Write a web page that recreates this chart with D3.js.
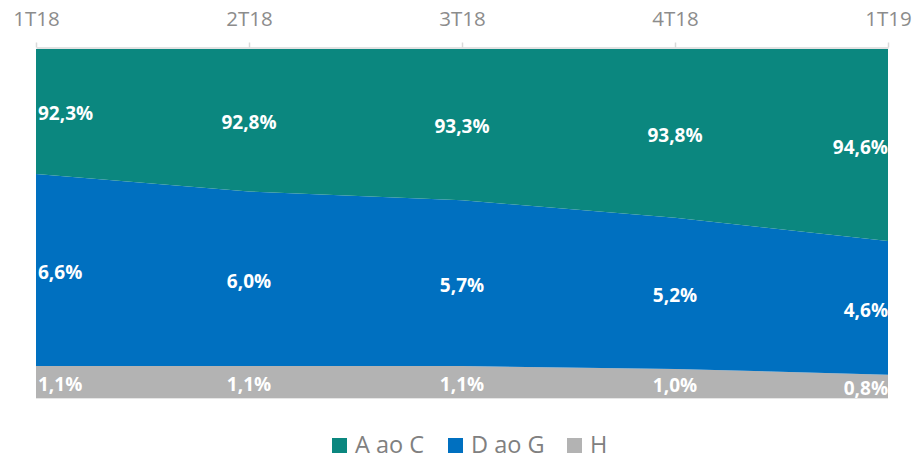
<!DOCTYPE html>
<html>
<head>
<meta charset="utf-8">
<script src="https://cdn.jsdelivr.net/npm/d3@7"></script>
<style>
  body { margin: 0; background: #fff; }
  .tick text { font-family: "Open Sans", sans-serif; font-size: 20.5px; fill: #8c8c8c; }
  .lbl { font-family: "Open Sans", sans-serif; font-size: 19px; font-weight: bold; fill: #fff; }
  .leg { font-family: "Open Sans", sans-serif; font-size: 23.5px; fill: #808080; }
</style>
</head>
<body>
<div id="chart"></div>
<script>
// Categories and series (percentages)
var quarters = ["1T18", "2T18", "3T18", "4T18", "1T19"];
var seriesNames = ["H", "D ao G", "A ao C"];
var valuesAC = [92.3, 92.8, 93.3, 93.8, 94.6];
var valuesDG = [6.6, 6.0, 5.7, 5.2, 4.6];
var valuesH = [1.1, 1.1, 1.1, 1.0, 0.8];
var colors = { "A ao C": "#0b877f", "D ao G": "#0070c0", "H": "#b3b3b3" };

var svgWidth = 917;
var svgHeight = 459;
var plot = { left: 36, right: 888, top: 49, bottom: 398 };

var svg = d3.select("#chart")
  .append("svg")
  .attr("width", svgWidth)
  .attr("height", svgHeight);

// build rows for the stack
var rows = quarters.map(function(q, i) {
  return { q: q, "H": valuesH[i], "D ao G": valuesDG[i], "A ao C": valuesAC[i] };
});

var stacked = d3.stack().keys(seriesNames)(rows);

var x = d3.scalePoint()
  .domain(quarters)
  .range([plot.left, plot.right]);

// axis max is 12%, so the top series gets cut off
var y = d3.scaleLinear()
  .domain([0, 12])
  .range([plot.bottom, plot.top]);

svg.append("clipPath")
  .attr("id", "plotClip")
  .append("rect")
  .attr("x", plot.left)
  .attr("y", plot.top)
  .attr("width", plot.right - plot.left)
  .attr("height", plot.bottom - plot.top);

var area = d3.area()
  .x(function(d) { return x(d.data.q); })
  .y0(function(d) { return y(d[0]); })
  .y1(function(d) { return y(d[1]); });

svg.append("g")
  .attr("clip-path", "url(#plotClip)")
  .selectAll("path")
  .data(stacked)
  .enter()
  .append("path")
  .attr("d", area)
  .attr("fill", function(s) { return colors[s.key]; });

// faint baseline
svg.append("line")
  .attr("x1", plot.left).attr("x2", plot.right)
  .attr("y1", plot.bottom + 0.5).attr("y2", plot.bottom + 0.5)
  .attr("stroke", "#e6e6e6");

// x axis on top
var topAxis = d3.axisTop(x).tickSizeInner(5).tickSizeOuter(0);
var axisG = svg.append("g")
  .attr("transform", "translate(0," + (plot.top - 1.5) + ")")
  .call(topAxis);
axisG.select(".domain").attr("stroke", "#d9d9d9").attr("stroke-width", 1.5);
axisG.selectAll(".tick line").attr("stroke", "#d9d9d9").attr("stroke-width", 1.5);
axisG.selectAll(".tick text").attr("y", -29).attr("dy", "0.36em");

// data labels centered in the visible part of each band
var fmt = function(v) { return v.toFixed(1).replace(".", ",") + "%"; };
stacked.forEach(function(s) {
  s.forEach(function(d, i) {
    var top = Math.max(y(d[1]), plot.top);
    var bot = y(d[0]);
    var anchor = i === 0 ? "start" : (i === quarters.length - 1 ? "end" : "middle");
    var dx = i === 0 ? 2 : 0;
    svg.append("text")
      .attr("class", "lbl")
      .attr("x", x(d.data.q) + dx)
      .attr("y", (top + bot) / 2 + 2)
      .attr("dy", "0.36em")
      .attr("text-anchor", anchor)
      .text(fmt(d.data[s.key]));
  });
});

// legend
var legendItems = [
  { name: "A ao C", x: 332 },
  { name: "D ao G", x: 448 },
  { name: "H", x: 567 }
];
var legend = svg.append("g");
legendItems.forEach(function(item) {
  legend.append("rect")
    .attr("x", item.x)
    .attr("y", 438)
    .attr("width", 15)
    .attr("height", 15)
    .attr("fill", colors[item.name]);
  legend.append("text")
    .attr("class", "leg")
    .attr("x", item.x + 23)
    .attr("y", 445)
    .attr("dy", "0.36em")
    .text(item.name);
});
</script>
</body>
</html>
